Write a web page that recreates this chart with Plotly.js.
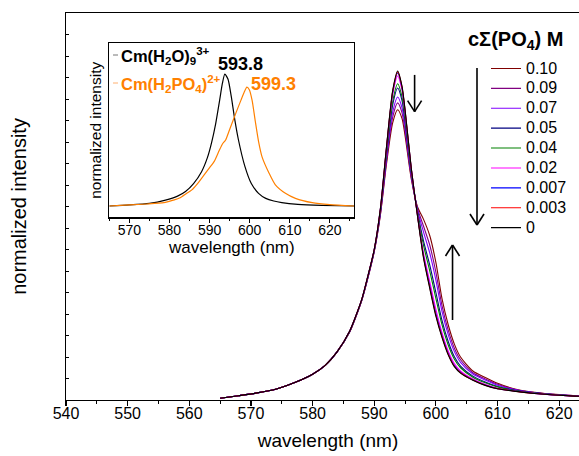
<!DOCTYPE html>
<html>
<head>
<meta charset="utf-8">
<script src="https://cdn.plot.ly/plotly-3.0.1.min.js"></script>
<style>
html,body{margin:0;padding:0;overflow:hidden;background:#fff;}
#chart{width:600px;height:456px;}
</style>
</head>
<body>
<div id="chart"></div>
<script>
// ---- main chart data (wavelength in nm, normalized intensity in arbitrary units) ----
const wl = [565,568,571,574,577,580,582,584,586,587,588,589,590,591,592,593,593.8,594.5,595,596,597,598,599,600,601,602,603,604,606,608,610,613,616,620,625,630];

const c0_000 = [0.08,0.2,0.33,0.5,0.8,1.2,1.6,2.25,3.2,3.9,4.7,5.8,7.0,8.9,11.8,14.4,15.3,14.6,13.5,10.8,8.6,6.6,5.2,3.9,2.9,2.1,1.55,1.25,0.92,0.68,0.52,0.4,0.3,0.22,0.15,0.1];
const c0_003 = [0.08,0.2,0.33,0.5,0.8,1.2,1.6,2.25,3.2,3.9,4.7,5.8,7.0,8.89,11.78,14.37,15.26,14.57,13.48,10.79,8.61,6.64,5.25,3.95,2.94,2.13,1.57,1.27,0.93,0.69,0.53,0.4,0.3,0.22,0.15,0.1];
const c0_007 = [0.08,0.2,0.33,0.5,0.8,1.2,1.6,2.25,3.2,3.9,4.7,5.8,7.0,8.89,11.76,14.33,15.21,14.53,13.44,10.78,8.62,6.69,5.32,4.03,2.99,2.17,1.6,1.29,0.94,0.7,0.53,0.41,0.3,0.22,0.15,0.1];
const c0_02  = [0.08,0.2,0.33,0.5,0.8,1.2,1.6,2.25,3.19,3.89,4.69,5.79,6.99,8.86,11.7,14.2,15.07,14.41,13.34,10.74,8.65,6.83,5.52,4.23,3.13,2.28,1.69,1.35,0.98,0.73,0.55,0.41,0.31,0.22,0.15,0.1];
const c0_04  = [0.08,0.2,0.33,0.5,0.8,1.2,1.6,2.25,3.18,3.88,4.68,5.77,6.97,8.8,11.54,13.9,14.71,14.11,13.1,10.64,8.73,7.19,6.01,4.73,3.49,2.56,1.9,1.5,1.06,0.8,0.61,0.43,0.32,0.23,0.15,0.1];
const c0_05  = [0.08,0.2,0.33,0.5,0.8,1.2,1.6,2.25,3.18,3.88,4.68,5.76,6.96,8.77,11.45,13.74,14.51,13.94,12.97,10.58,8.78,7.39,6.28,5.0,3.69,2.72,2.01,1.58,1.11,0.84,0.63,0.44,0.33,0.23,0.15,0.1];
const c0_07  = [0.08,0.2,0.33,0.5,0.8,1.2,1.6,2.25,3.17,3.87,4.67,5.73,6.93,8.7,11.26,13.4,14.09,13.6,12.7,10.47,8.87,7.81,6.84,5.58,4.11,3.04,2.25,1.75,1.21,0.93,0.69,0.47,0.34,0.24,0.16,0.1];
const c0_09  = [0.08,0.2,0.33,0.5,0.8,1.2,1.6,2.25,3.16,3.86,4.66,5.72,6.92,8.65,11.14,13.17,13.82,13.37,12.52,10.39,8.93,8.08,7.21,5.95,4.38,3.25,2.41,1.87,1.27,0.98,0.73,0.48,0.35,0.24,0.16,0.1];
const c0_10  = [0.08,0.2,0.33,0.5,0.8,1.2,1.6,2.25,3.15,3.85,4.65,5.7,6.9,8.6,11.0,12.9,13.5,13.1,12.3,10.3,9.0,8.4,7.65,6.4,4.7,3.5,2.6,2.0,1.35,1.05,0.78,0.5,0.36,0.25,0.16,0.1];

const concLabels = ['0.10','0.09','0.07','0.05','0.04','0.02','0.007','0.003','0'];
const concSeries = [c0_10,c0_09,c0_07,c0_05,c0_04,c0_02,c0_007,c0_003,c0_000];
const concColors = ['#800000','#800080','#8000ff','#000080','#008000','#ff00ff','#0000ff','#ff0000','#000000'];

// ---- inset data ----
const wlAqua = [565,570,575,579,582,584,586,588,589.5,590.5,591.5,592.5,593.2,593.8,594.6,595.4,596.3,597.2,598.8,600.4,602.2,604,606,608,612,618,626];
const iAqua  = [0.0,0.008,0.02,0.045,0.075,0.11,0.17,0.26,0.37,0.48,0.62,0.80,0.93,1.0,0.96,0.83,0.65,0.5,0.3,0.17,0.096,0.058,0.038,0.026,0.013,0.005,0.0];
const wlPhos = [565,570,574.4,578.6,581,582.5,584.3,585.5,587,588.5,590,591.2,592.4,593.2,594,595,596.5,597.8,598.6,599.3,599.9,600.6,601.4,602.2,603.1,604.8,606.4,608.9,611.4,615.6,620,626];
const iPhos  = [0.0,0.008,0.015,0.025,0.045,0.06,0.096,0.12,0.17,0.23,0.29,0.34,0.42,0.47,0.5,0.58,0.7,0.8,0.86,0.90,0.88,0.80,0.64,0.49,0.37,0.25,0.16,0.096,0.058,0.025,0.01,0.0];

const FONT = 'Arial, "Liberation Sans", sans-serif';
const traces = [];
concSeries.forEach((s, i) => {
  traces.push({
    x: wl, y: s, type: 'scatter', mode: 'lines',
    name: '<span style="font-size:16px">' + concLabels[i] + '</span>',
    line: {color: concColors[i], width: 1.1, shape: 'spline', smoothing: 0.7},
    xaxis: 'x', yaxis: 'y', hoverinfo: 'skip'
  });
});
traces.push({x: wlAqua, y: iAqua, type: 'scatter', mode: 'lines', showlegend: false,
  line: {color: '#000000', width: 1.2, shape: 'spline', smoothing: 0.6}, xaxis: 'x2', yaxis: 'y2'});
traces.push({x: wlPhos, y: iPhos, type: 'scatter', mode: 'lines', showlegend: false,
  line: {color: '#ff8000', width: 1.2, shape: 'spline', smoothing: 0.6}, xaxis: 'x2', yaxis: 'y2'});

// pixel helpers for annotations positioned on the page (plot area: l=66, w=524, t=13, h=387)
const PX = p => (p - 66) / 524;
const PY = p => (400 - p) / 387;

const nmPerPx = 85 / 524, vPerPx = 18 / 387;
function arrow(x, yTail, yTip) {
  const dir = yTip > yTail ? -1 : 1;
  const hw = 7 * nmPerPx, hh = 11 * vPerPx;
  const st = {color: '#000', width: 1.6};
  return [
    {type: 'line', xref: 'x', yref: 'y', x0: x, x1: x, y0: yTail, y1: yTip, line: st},
    {type: 'line', xref: 'x', yref: 'y', x0: x - hw, x1: x, y0: yTip + dir * hh, y1: yTip, line: st},
    {type: 'line', xref: 'x', yref: 'y', x0: x + hw, x1: x, y0: yTip + dir * hh, y1: yTip, line: st}
  ];
}
const shapes = [].concat(
  arrow(596.55, 15.12, 13.41),
  arrow(602.7, 3.72, 7.21),
  arrow(606.67, 15.44, 8.14),
  [
    {type: 'line', xref: 'paper', yref: 'paper', x0: PX(113), x1: PX(118), y0: PY(55), y1: PY(55), line: {color: '#777', width: 1}},
    {type: 'line', xref: 'paper', yref: 'paper', x0: PX(113), x1: PX(118), y0: PY(83), y1: PY(83), line: {color: '#ffb070', width: 1}}
  ]
);

const annotations = [
  {xref: 'paper', yref: 'paper', x: PX(119), y: PY(56), xanchor: 'left', yanchor: 'middle', showarrow: false,
   text: '<b>Cm(H<sub>2</sub>O)<sub>9</sub><sup>3+</sup></b>', font: {family: FONT, size: 16.5, color: '#000'}},
  {xref: 'paper', yref: 'paper', x: PX(119), y: PY(84), xanchor: 'left', yanchor: 'middle', showarrow: false,
   text: '<b>Cm(H<sub>2</sub>PO<sub>4</sub>)<sup>2+</sup></b>', font: {family: FONT, size: 16.5, color: '#ff8000'}},
  {xref: 'paper', yref: 'paper', x: PX(240), y: PY(64), xanchor: 'center', yanchor: 'middle', showarrow: false,
   text: '<b>593.8</b>', font: {family: FONT, size: 18, color: '#000'}},
  {xref: 'paper', yref: 'paper', x: PX(273), y: PY(84), xanchor: 'center', yanchor: 'middle', showarrow: false,
   text: '<b>599.3</b>', font: {family: FONT, size: 18, color: '#ff8000'}},
  {xref: 'paper', yref: 'paper', x: PX(466), y: PY(41), xanchor: 'left', yanchor: 'middle', showarrow: false,
   text: '<b>cΣ(PO<sub>4</sub>) M</b>', font: {family: FONT, size: 20, color: '#000'}},
  {xref: 'paper', yref: 'paper', x: PX(231.6), y: PY(247), xanchor: 'center', yanchor: 'middle', showarrow: false,
   text: 'wavelength (nm)', font: {family: FONT, size: 17, color: '#000'}}
];

const layout = {
  width: 600, height: 456,
  margin: {l: 66, r: 10, t: 13, b: 56},
  paper_bgcolor: '#fff', plot_bgcolor: '#fff',
  font: {family: FONT, color: '#000'},
  showlegend: true,
  legend: {x: PX(486), y: PY(53.5), xanchor: 'left', yanchor: 'top', bgcolor: 'rgba(0,0,0,0)',
           font: {family: FONT, size: 13, color: '#000'}, tracegroupgap: 0, itemwidth: 30},
  xaxis: {range: [540, 625], domain: [0, 1], showgrid: false, zeroline: false,
          showline: true, linecolor: '#000', linewidth: 1.3, mirror: true,
          ticks: 'outside', ticklen: 5, tickwidth: 1.2, tickcolor: '#000', dtick: 10, tick0: 540,
          minor: {dtick: 5, ticks: 'outside', ticklen: 3, tickcolor: '#000', tickwidth: 1},
          tickfont: {family: FONT, size: 16, color: '#000'}, ticklabelstandoff: -7,
          title: {text: 'wavelength (nm)', font: {family: FONT, size: 19, color: '#000'}, standoff: 13}},
  yaxis: {range: [0, 18], domain: [0, 1], showgrid: false, zeroline: false,
          showline: true, linecolor: '#000', linewidth: 1.3, mirror: true,
          ticks: 'inside', ticklen: 3, tickcolor: '#000', dtick: 1, tick0: 0, showticklabels: false,
          title: {text: 'normalized intensity', font: {family: FONT, size: 20, color: '#000'}, standoff: 32}},
  xaxis2: {range: [565, 626], domain: [PX(109.3), PX(354)], anchor: 'y2', showgrid: false, zeroline: false,
           showline: true, linecolor: '#000', linewidth: 1.2, mirror: true,
           ticks: 'outside', ticklen: 4, tickcolor: '#000', dtick: 10, tick0: 570,
           minor: {dtick: 5, ticks: 'outside', ticklen: 2, tickcolor: '#000'},
           tickfont: {family: FONT, size: 14, color: '#000'}, ticklabelstandoff: -4},
  yaxis2: {range: [-0.0856, 1.2326], domain: [PY(217.3), PY(43.3)], anchor: 'x2', showgrid: false, zeroline: false,
           showline: true, linecolor: '#000', linewidth: 1.2, mirror: true,
           ticks: '', showticklabels: false,
           title: {text: 'normalized intensity', font: {family: FONT, size: 15.5, color: '#000'}, standoff: 2}},
  shapes: shapes,
  annotations: annotations
};

Plotly.newPlot('chart', traces, layout, {staticPlot: true, displayModeBar: false});
</script>
</body>
</html>
